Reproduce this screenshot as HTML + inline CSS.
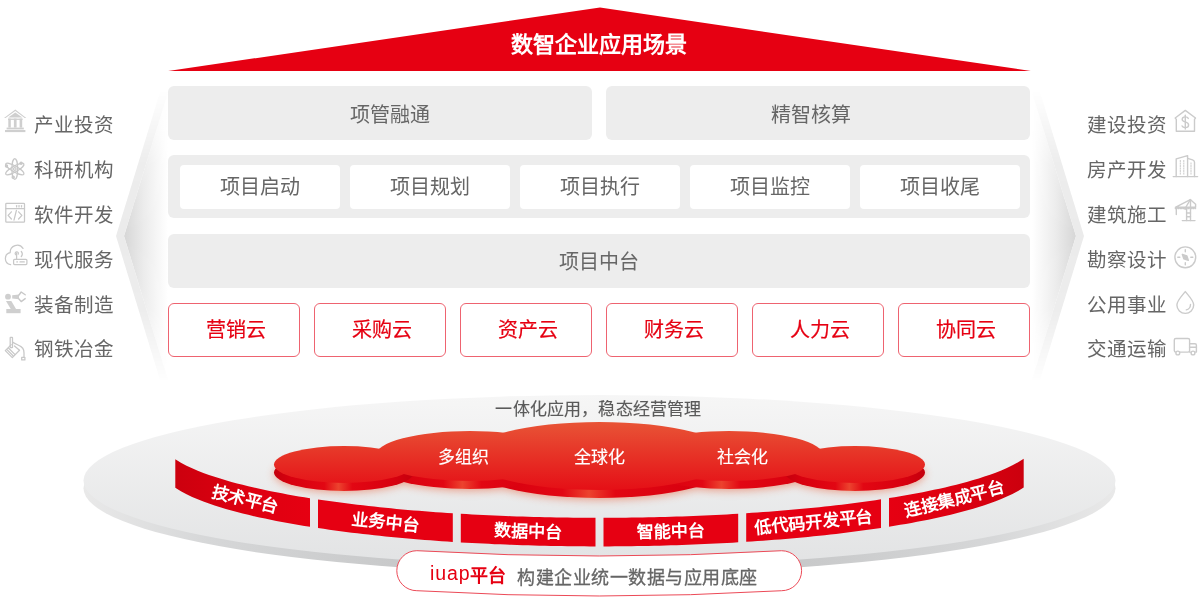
<!DOCTYPE html>
<html lang="zh-CN">
<head>
<meta charset="utf-8">
<style>
html,body{margin:0;padding:0;background:#fff;}
body{width:1200px;height:600px;position:relative;overflow:hidden;font-family:"Liberation Sans",sans-serif;will-change:transform;}
svg{position:absolute;left:0;top:0;}
.box{position:absolute;background:#ededed;border-radius:6px;color:#666;font-size:20px;text-align:center;}
.wbox{position:absolute;background:#fff;border-radius:4px;color:#666;font-size:20px;text-align:center;top:164.5px;height:44px;line-height:44px;width:160px;}
.rbox{position:absolute;top:303px;height:52px;line-height:52px;width:130px;text-indent:4px;border:1px solid #ee6370;border-radius:6px;color:#e60012;font-size:20px;text-align:center;background:#fff;-webkit-text-stroke:0.2px #e60012;}
.lab{position:absolute;font-size:19.5px;color:#666;line-height:28px;height:28px;white-space:nowrap;margin-top:1px;}
.ico{position:absolute;}
</style>
</head>
<body>
<!-- side wings -->
<svg width="1200" height="600" viewBox="0 0 1200 600">
  <defs>
    <linearGradient id="wgL" x1="124" y1="0" x2="168" y2="0" gradientUnits="userSpaceOnUse">
      <stop offset="0" stop-color="#d6d6d6"/>
      <stop offset="0.45" stop-color="#ebebeb"/>
      <stop offset="1" stop-color="#ffffff"/>
    </linearGradient>
    <linearGradient id="wgR" x1="1076" y1="0" x2="1032" y2="0" gradientUnits="userSpaceOnUse">
      <stop offset="0" stop-color="#d6d6d6"/>
      <stop offset="0.45" stop-color="#ebebeb"/>
      <stop offset="1" stop-color="#ffffff"/>
    </linearGradient>
    <linearGradient id="vfade" x1="0" y1="90" x2="0" y2="384" gradientUnits="userSpaceOnUse">
      <stop offset="0" stop-color="#fff" stop-opacity="0"/>
      <stop offset="0.25" stop-color="#fff" stop-opacity="0.9"/>
      <stop offset="0.5" stop-color="#fff" stop-opacity="1"/>
      <stop offset="0.75" stop-color="#fff" stop-opacity="0.9"/>
      <stop offset="1" stop-color="#fff" stop-opacity="0"/>
    </linearGradient>
    <mask id="vm" maskUnits="userSpaceOnUse" x="0" y="0" width="1200" height="600">
      <rect x="0" y="80" width="1200" height="310" fill="url(#vfade)"/>
    </mask>
  </defs>
  <g mask="url(#vm)">
    <polygon points="168,92 124,236 168,380" fill="url(#wgL)"/>
    <polygon points="160,92 116,236 160,380 168,380 124,236 168,92" fill="#ebebeb"/>
    <polygon points="1032,92 1076,236 1032,380" fill="url(#wgR)"/>
    <polygon points="1040,92 1084,236 1040,380 1032,380 1076,236 1032,92" fill="#ebebeb"/>
  </g>
  <!-- roof -->
  <polygon points="168.2,71 600,7.5 1030.8,71" fill="#e60012"/>
  <text x="599" y="52" text-anchor="middle" font-size="22" font-weight="bold" fill="#fff">数智企业应用场景</text>
</svg>

<div class="box" style="left:168px;top:86px;width:424px;height:54px;"><span style="position:absolute;left:182px;top:14.5px;line-height:28px;">项管融通</span></div>
<div class="box" style="left:606px;top:86px;width:424px;height:54px;"><span style="position:absolute;left:165px;top:14.5px;line-height:28px;">精智核算</span></div>
<div class="box" style="left:168px;top:155px;width:862px;height:63px;"></div>
<div class="wbox" style="left:180px;">项目启动</div>
<div class="wbox" style="left:350px;">项目规划</div>
<div class="wbox" style="left:520px;">项目执行</div>
<div class="wbox" style="left:690px;">项目监控</div>
<div class="wbox" style="left:860px;">项目收尾</div>
<div class="box" style="left:168px;top:234px;width:862px;height:54px;line-height:56px;">项目中台</div>
<div class="rbox" style="left:168px;">营销云</div>
<div class="rbox" style="left:314px;">采购云</div>
<div class="rbox" style="left:460px;">资产云</div>
<div class="rbox" style="left:606px;">财务云</div>
<div class="rbox" style="left:752px;">人力云</div>
<div class="rbox" style="left:898px;">协同云</div>


<svg width="1200" height="600" viewBox="0 0 1200 600">
 <g fill="#cfcfcf" stroke="none">
  <!-- bank -->
  <path d="M4,117.9 L15.3,109.5 L26.3,117.9 L24.7,117.9 L15.3,111.1 L5.6,117.9Z"/>
  <path d="M8.2,117.6 L15.3,112.6 L22.4,117.6Z"/>
  <rect x="8" y="118.6" width="14.6" height="1.3"/>
  <rect x="8.3" y="118.6" width="2.5" height="9"/>
  <rect x="13.9" y="118.6" width="2.7" height="9"/>
  <rect x="19.6" y="118.6" width="2.6" height="9"/>
  <rect x="6.6" y="127.6" width="17.2" height="1.8"/>
  <rect x="5" y="130" width="20.4" height="2.1"/>
  <!-- robot arm -->
  <circle cx="8" cy="296.7" r="2.9"/>
  <path d="M12.2,295.2 L19,294.5 L19,299.2 L12.2,298.6Z"/>
  <path d="M6,301 L11.3,301 L16.2,309.2 L10.9,309.2Z"/>
  <rect x="6.3" y="309" width="14.3" height="4.2"/>
 </g>
 <g fill="none" stroke="#c8c8c8" stroke-width="1.25" stroke-linejoin="round" stroke-linecap="round">
  <!-- gripper -->
  <path d="M19,295 L21.2,292 L25.2,294.8" stroke-width="1.4"/>
  <path d="M19,299 L21.2,301.6 L25.2,298.6" stroke-width="1.4"/>
  <!-- atom -->
  <g transform="translate(14.8,169)">
   <ellipse rx="2.9" ry="10.4"/>
   <ellipse rx="2.9" ry="10.4" transform="rotate(60)"/>
   <ellipse rx="2.9" ry="10.4" transform="rotate(-60)"/>
   <circle r="1.3"/>
   <circle cx="-8.3" cy="-3" r="1.1"/>
   <circle cx="6.3" cy="-5.8" r="1.1"/>
   <circle cx="-1.6" cy="8.3" r="1.1"/>
  </g>
  <!-- code window -->
  <rect x="5.8" y="203.3" width="18.7" height="18.9" rx="0.8"/>
  <line x1="5.8" y1="208.5" x2="24.5" y2="208.5"/>
  <line x1="16.6" y1="205.6" x2="16.6" y2="206.9"/>
  <line x1="19" y1="205.6" x2="19" y2="206.9"/>
  <line x1="21.5" y1="205.6" x2="21.5" y2="206.9"/>
  <path d="M11.4,211.8 L8.1,215.4 L11.4,219"/>
  <path d="M18.6,211.8 L21.9,215.4 L18.6,219"/>
  <line x1="16.4" y1="210.4" x2="14" y2="220.2"/>
  <!-- cloud router -->
  <path d="M23,248.4 A7,7 0 0 0 10.2,252.6 A6.1,6.1 0 0 0 10.6,264.6"/>
  <rect x="13.6" y="259.3" width="13.3" height="5.3" rx="1"/>
  <line x1="16.6" y1="253" x2="16.6" y2="259.3"/>
  <line x1="16.8" y1="261.9" x2="17.5" y2="261.9"/>
  <line x1="20" y1="261.9" x2="24.3" y2="261.9"/>
  <path d="M15.9,254.8 A1.6,1.6 0 1 1 18.2,254.2"/>
  <path d="M21.3,251.5 A4,4 0 0 1 21.3,256.5"/>
  <!-- bucket -->
  <rect x="10.2" y="337.3" width="2.3" height="10.3" rx="0.4"/>
  <path d="M11.2,344.6 L5.3,350.6 L12.3,357.6 L19.5,350.3"/>
  <path d="M8.5,348 L14.8,354.4 M7,349.6 L13.3,356"/>
  <path d="M13,342.4 C16,344 19,345.5 21,346.6 C24,348.4 24.2,351 24,357.3"/>
  <path d="M14.5,346 L19.5,350.3"/>
  <rect x="21.7" y="357.3" width="3.2" height="2.6"/>

  <g stroke-width="1.4" stroke="#cbcbcb">
  <!-- house $ -->
  <path d="M1176.3,131.3 L1176.3,119.4 L1175.2,118 L1185.3,110.4 L1195.5,118 L1194.5,119.4 L1194.5,131.3Z"/>
  <path d="M1188.3,118.4 C1187.8,117.3 1186.6,116.9 1185.2,116.9 C1183.3,116.9 1182.2,118 1182.2,119.4 C1182.2,122.6 1188.6,121.3 1188.6,125 C1188.6,126.6 1187.1,127.6 1185.3,127.6 C1183.6,127.6 1182.5,127 1182.1,126"/>
  <line x1="1185.3" y1="115.3" x2="1185.3" y2="129"/>
  <!-- buildings -->
  <line x1="1173.2" y1="176.6" x2="1197.6" y2="176.6"/>
  <path d="M1176.2,176.6 L1176.2,158.8 L1187.6,155.6 L1187.6,176.6"/>
  <path d="M1187.6,158.4 L1192.6,159.8 C1193.8,160.2 1194.5,161 1194.5,162.2 L1194.5,176.6"/>
  <g stroke-width="1" stroke-dasharray="1.3,1.2">
   <line x1="1180.3" y1="160.4" x2="1180.3" y2="174.6"/>
   <line x1="1183.8" y1="160.4" x2="1183.8" y2="174.6"/>
   <line x1="1191" y1="162.9" x2="1191" y2="174.6"/>
  </g>
  <!-- crane -->
  <line x1="1182.3" y1="220.6" x2="1195" y2="220.6"/>
  <path d="M1186.6,220.6 L1186.6,209 M1190.5,220.6 L1190.5,199.8"/>
  <path d="M1175.3,207.3 L1195.6,207.3 L1195.6,204.3 L1190.3,199.6 L1175.3,207.3Z"/>
  <path d="M1190.3,199.6 L1184.8,209 L1186.6,209 M1186.6,213 L1190.5,213 M1186.6,216.8 L1190.5,216.8"/>
  <line x1="1176.3" y1="207.3" x2="1176.3" y2="214.5"/>
  <line x1="1175.3" y1="208.6" x2="1195.6" y2="208.6" stroke-dasharray="1.3,1.2"/>
  <!-- compass -->
  <circle cx="1185.3" cy="257.3" r="10.4"/>
  <path d="M1185.3,249.8 L1185.3,251.8 M1185.3,262.8 L1185.3,264.8 M1177.8,257.3 L1179.8,257.3 M1190.8,257.3 L1192.8,257.3" stroke-width="1.4"/>
  <path d="M1182.3,254.3 L1186.8,255.8 L1188.3,260.3 L1183.8,258.8Z" fill="#cbcbcb"/>
  <!-- drop -->
  <path d="M1185.3,291.6 C1181.5,296.3 1176.9,300.8 1176.9,305 A8.4,8.4 0 0 0 1193.7,305 C1193.7,300.8 1189.1,296.3 1185.3,291.6Z"/>
  <path d="M1190.5,304.4 C1190.5,306.8 1188.9,309.4 1186.3,309.9"/>
  <!-- truck -->
  <rect x="1174.3" y="338.5" width="15.3" height="13.6" rx="1.6"/>
  <path d="M1189.6,343.8 L1195,343.8 C1195.8,343.8 1196.4,344.4 1196.4,345.2 L1196.4,352.1 L1189.6,352.1"/>
  <line x1="1189.6" y1="347.2" x2="1196.4" y2="347.2"/>
  <circle cx="1177.8" cy="353" r="1.9" fill="#fff"/>
  <circle cx="1193" cy="353" r="1.9" fill="#fff"/>
  </g>
 </g>
</svg>

<!-- left labels -->
<div class="lab" style="left:34px;top:110px;">产业投资</div>
<div class="lab" style="left:34px;top:155px;">科研机构</div>
<div class="lab" style="left:34px;top:200px;">软件开发</div>
<div class="lab" style="left:34px;top:245px;">现代服务</div>
<div class="lab" style="left:34px;top:290px;">装备制造</div>
<div class="lab" style="left:34px;top:334px;">钢铁冶金</div>
<!-- right labels -->
<div class="lab" style="left:1087px;top:110px;">建设投资</div>
<div class="lab" style="left:1087px;top:155px;">房产开发</div>
<div class="lab" style="left:1087px;top:200px;">建筑施工</div>
<div class="lab" style="left:1087px;top:245px;">勘察设计</div>
<div class="lab" style="left:1087px;top:290px;">公用事业</div>
<div class="lab" style="left:1087px;top:334px;">交通运输</div>

<!-- bottom platform -->
<svg width="1200" height="600" viewBox="0 0 1200 600">
  <defs>
    <linearGradient id="discTop" x1="0" y1="395" x2="0" y2="565" gradientUnits="userSpaceOnUse">
      <stop offset="0" stop-color="#f6f6f6"/>
      <stop offset="1" stop-color="#e2e3e4"/>
    </linearGradient>
    <linearGradient id="discRim" x1="0" y1="0" x2="1" y2="0">
      <stop offset="0" stop-color="#e9e9e9"/>
      <stop offset="0.12" stop-color="#d6d7d8"/>
      <stop offset="0.3" stop-color="#c8c9ca"/>
      <stop offset="0.7" stop-color="#c8c9ca"/>
      <stop offset="0.88" stop-color="#d6d7d8"/>
      <stop offset="1" stop-color="#e9e9e9"/>
    </linearGradient>
    <linearGradient id="cloudTop" x1="0" y1="422" x2="0" y2="490" gradientUnits="userSpaceOnUse">
      <stop offset="0" stop-color="#e85436"/>
      <stop offset="1" stop-color="#e50f16"/>
    </linearGradient>
    <linearGradient id="rimG" x1="0" y1="0" x2="1" y2="0">
      <stop offset="0" stop-color="#c4000d"/>
      <stop offset="0.12" stop-color="#d8000f"/>
      <stop offset="0.36" stop-color="#e20713"/>
      <stop offset="0.46" stop-color="#ec432e"/>
      <stop offset="0.56" stop-color="#e20713"/>
      <stop offset="0.85" stop-color="#d8000f"/>
      <stop offset="1" stop-color="#c4000d"/>
    </linearGradient>
    <linearGradient id="banG" x1="175" y1="0" x2="1024" y2="0" gradientUnits="userSpaceOnUse">
      <stop offset="0" stop-color="#cc000e"/>
      <stop offset="0.08" stop-color="#dd0010"/>
      <stop offset="0.16" stop-color="#e60012"/>
      <stop offset="0.84" stop-color="#e60012"/>
      <stop offset="0.92" stop-color="#dd0010"/>
      <stop offset="1" stop-color="#cc000e"/>
    </linearGradient>
    <filter id="blur4" x="-20%" y="-50%" width="140%" height="200%"><feGaussianBlur stdDeviation="4"/></filter>
  </defs>
  <!-- disc -->
  <ellipse cx="599.5" cy="488.3" rx="516" ry="85.6" fill="url(#discRim)"/>
  <ellipse cx="599.5" cy="480.6" rx="516" ry="85.6" fill="url(#discTop)"/>

  <!-- cloud shadow -->
  <g filter="url(#blur4)" opacity="0.55">
    <ellipse cx="344" cy="474" rx="70" ry="18.5" fill="#e8603a"/>
    <ellipse cx="470" cy="466" rx="95" ry="25" fill="#e8603a"/>
    <ellipse cx="599.5" cy="466" rx="132" ry="34" fill="#e8603a"/>
    <ellipse cx="729" cy="466" rx="95" ry="25" fill="#e8603a"/>
    <ellipse cx="855" cy="474" rx="70" ry="18.5" fill="#e8603a"/>
  </g>
  <!-- cloud rims -->
  <g fill="url(#rimG)">
    <ellipse cx="599.5" cy="464" rx="132" ry="34"/>
    <ellipse cx="470" cy="464" rx="95" ry="25"/>
    <ellipse cx="729" cy="464" rx="95" ry="25"/>
    <ellipse cx="344" cy="472.5" rx="70" ry="18.5"/>
    <ellipse cx="855" cy="472.5" rx="70" ry="18.5"/>
  </g>
  <!-- cloud tops -->
  <g fill="url(#cloudTop)">
    <ellipse cx="344" cy="464.5" rx="70" ry="18.5"/>
    <ellipse cx="470" cy="456" rx="95" ry="25"/>
    <ellipse cx="599.5" cy="456" rx="132" ry="34"/>
    <ellipse cx="729" cy="456" rx="95" ry="25"/>
    <ellipse cx="855" cy="464.5" rx="70" ry="18.5"/>
  </g>
  <g font-size="17" fill="#fff" text-anchor="middle" stroke="#fff" stroke-width="0.15">
    <text x="463" y="463">多组织</text>
    <text x="599.5" y="463">全球化</text>
    <text x="742" y="463">社会化</text>
  </g>
  <text x="495.5" y="415" font-size="17" letter-spacing="0.4" fill="#5a5a5a" stroke="#5a5a5a" stroke-width="0.15" transform="translate(495.5,415) scale(1,1.03) translate(-495.5,-415)">一体化应用，稳态经营管理</text>

  <!-- banners -->
  <g id="banners" fill="url(#banG)"><path d="M175.30,459.24 L180.91,462.69 L186.53,465.66 L192.14,468.30 L197.75,470.69 L203.36,472.89 L208.98,474.92 L214.59,476.82 L220.20,478.60 L225.81,480.29 L231.43,481.88 L237.04,483.40 L242.65,484.84 L248.26,486.21 L253.88,487.53 L259.49,488.79 L265.10,490.01 L270.71,491.17 L276.32,492.29 L281.94,493.37 L287.55,494.41 L293.16,495.41 L298.77,496.38 L304.39,497.31 L310.00,498.21 L310.00,526.81 L304.39,525.91 L298.77,524.98 L293.16,524.01 L287.55,523.01 L281.94,521.97 L276.32,520.89 L270.71,519.77 L265.10,518.61 L259.49,517.39 L253.88,516.13 L248.26,514.81 L242.65,513.44 L237.04,512.00 L231.43,510.48 L225.81,508.89 L220.20,507.20 L214.59,505.42 L208.98,503.52 L203.36,501.49 L197.75,499.29 L192.14,496.90 L186.53,494.26 L180.91,491.29 L175.30,487.84 Z"/><path d="M318.00,499.44 L323.62,500.27 L329.23,501.08 L334.85,501.85 L340.47,502.60 L346.08,503.33 L351.70,504.03 L357.32,504.71 L362.93,505.37 L368.55,506.01 L374.17,506.62 L379.78,507.22 L385.40,507.79 L391.02,508.35 L396.63,508.88 L402.25,509.40 L407.87,509.90 L413.48,510.38 L419.10,510.84 L424.72,511.29 L430.33,511.72 L435.95,512.14 L441.57,512.53 L447.18,512.91 L452.80,513.28 L452.80,541.88 L447.18,541.51 L441.57,541.13 L435.95,540.74 L430.33,540.32 L424.72,539.89 L419.10,539.44 L413.48,538.98 L407.87,538.50 L402.25,538.00 L396.63,537.48 L391.02,536.95 L385.40,536.39 L379.78,535.82 L374.17,535.22 L368.55,534.61 L362.93,533.97 L357.32,533.31 L351.70,532.63 L346.08,531.93 L340.47,531.20 L334.85,530.45 L329.23,529.68 L323.62,528.87 L318.00,528.04 Z"/><path d="M460.80,513.78 L466.41,514.10 L472.03,514.42 L477.64,514.72 L483.25,515.00 L488.86,515.27 L494.48,515.53 L500.09,515.77 L505.70,516.00 L511.31,516.21 L516.92,516.41 L522.54,516.59 L528.15,516.77 L533.76,516.93 L539.38,517.07 L544.99,517.20 L550.60,517.32 L556.21,517.43 L561.83,517.52 L567.44,517.60 L573.05,517.67 L578.66,517.72 L584.27,517.76 L589.89,517.79 L595.50,517.81 L595.50,546.41 L589.89,546.39 L584.27,546.36 L578.66,546.32 L573.05,546.27 L567.44,546.20 L561.83,546.12 L556.21,546.03 L550.60,545.92 L544.99,545.80 L539.38,545.67 L533.76,545.53 L528.15,545.37 L522.54,545.19 L516.92,545.01 L511.31,544.81 L505.70,544.60 L500.09,544.37 L494.48,544.13 L488.86,543.87 L483.25,543.60 L477.64,543.32 L472.03,543.02 L466.41,542.70 L460.80,542.38 Z"/><path d="M603.50,517.81 L609.11,517.79 L614.73,517.76 L620.34,517.72 L625.95,517.66 L631.56,517.59 L637.17,517.51 L642.79,517.42 L648.40,517.31 L654.01,517.19 L659.62,517.06 L665.24,516.91 L670.85,516.75 L676.46,516.57 L682.08,516.39 L687.69,516.18 L693.30,515.97 L698.91,515.74 L704.53,515.50 L710.14,515.24 L715.75,514.97 L721.36,514.68 L726.98,514.38 L732.59,514.06 L738.20,513.73 L738.20,542.33 L732.59,542.66 L726.98,542.98 L721.36,543.28 L715.75,543.57 L710.14,543.84 L704.53,544.10 L698.91,544.34 L693.30,544.57 L687.69,544.78 L682.08,544.99 L676.46,545.17 L670.85,545.35 L665.24,545.51 L659.62,545.66 L654.01,545.79 L648.40,545.91 L642.79,546.02 L637.17,546.11 L631.56,546.19 L625.95,546.26 L620.34,546.32 L614.73,546.36 L609.11,546.39 L603.50,546.41 Z"/><path d="M746.20,513.24 L751.82,512.87 L757.43,512.49 L763.05,512.09 L768.67,511.67 L774.28,511.24 L779.90,510.79 L785.52,510.32 L791.13,509.84 L796.75,509.34 L802.37,508.82 L807.98,508.28 L813.60,507.72 L819.22,507.15 L824.83,506.55 L830.45,505.93 L836.07,505.29 L841.68,504.63 L847.30,503.95 L852.92,503.24 L858.53,502.51 L864.15,501.76 L869.77,500.98 L875.38,500.17 L881.00,499.34 L881.00,527.94 L875.38,528.77 L869.77,529.58 L864.15,530.36 L858.53,531.11 L852.92,531.84 L847.30,532.55 L841.68,533.23 L836.07,533.89 L830.45,534.53 L824.83,535.15 L819.22,535.75 L813.60,536.32 L807.98,536.88 L802.37,537.42 L796.75,537.94 L791.13,538.44 L785.52,538.92 L779.90,539.39 L774.28,539.84 L768.67,540.27 L763.05,540.69 L757.43,541.09 L751.82,541.47 L746.20,541.84 Z"/><path d="M889.00,498.10 L894.61,497.20 L900.23,496.26 L905.84,495.29 L911.45,494.28 L917.06,493.24 L922.67,492.16 L928.29,491.03 L933.90,489.86 L939.51,488.64 L945.12,487.38 L950.74,486.05 L956.35,484.67 L961.96,483.22 L967.58,481.69 L973.19,480.09 L978.80,478.39 L984.41,476.60 L990.03,474.68 L995.64,472.63 L1001.25,470.41 L1006.86,467.99 L1012.48,465.32 L1018.09,462.30 L1023.70,458.78 L1023.70,487.38 L1018.09,490.90 L1012.48,493.92 L1006.86,496.59 L1001.25,499.01 L995.64,501.23 L990.03,503.28 L984.41,505.20 L978.80,506.99 L973.19,508.69 L967.58,510.29 L961.96,511.82 L956.35,513.27 L950.74,514.65 L945.12,515.98 L939.51,517.24 L933.90,518.46 L928.29,519.63 L922.67,520.76 L917.06,521.84 L911.45,522.88 L905.84,523.89 L900.23,524.86 L894.61,525.80 L889.00,526.70 Z"/></g>
  <g id="btext" font-size="17" font-weight="bold" fill="#fff" text-anchor="middle"><text transform="translate(245.15,499.14) rotate(14.09)" y="6">技术平台</text><text transform="translate(385.40,522.09) rotate(5.74)" y="6">业务中台</text><text transform="translate(528.15,531.07) rotate(1.69)" y="6">数据中台</text><text transform="translate(670.85,531.05) rotate(-1.71)" y="6">智能中台</text><text transform="translate(813.60,522.02) rotate(-5.76)" y="6">低代码开发平台</text><text transform="translate(954.35,498.97) rotate(-14.17)" y="6">连接集成平台</text></g>

  <!-- pill -->
  <path id="pill" d="M416.80,550.70 Q599.30,561.29 781.60,550.72 A20,20 0 0 1 781.60,590.72 Q599.30,601.29 416.80,590.70 A20,20 0 0 1 416.80,550.70 Z" fill="#fff" stroke="#ec4a57" stroke-width="1"/>
  <text y="580" fill="#e60012"><tspan x="430" font-size="19.5" letter-spacing="0.9">iuap</tspan><tspan font-size="18" font-weight="bold" dy="2">平台</tspan></text>
  <text x="517" y="584" font-size="18" letter-spacing="0.5" fill="#666" stroke="#666" stroke-width="0.3">构建企业统一数据与应用底座</text>
</svg>
</body>
</html>
